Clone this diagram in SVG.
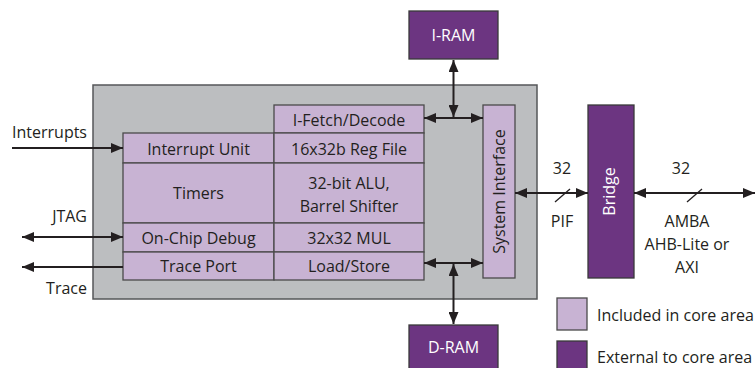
<svg xmlns="http://www.w3.org/2000/svg" width="755" height="368" viewBox="0 0 755 368">
<defs>
<marker id="ah" viewBox="0 0 12 10" refX="12" refY="5" markerWidth="12" markerHeight="10" markerUnits="userSpaceOnUse" orient="auto-start-reverse">
<path d="M0,0 L12,5 L0,10 z" fill="#231f20"/>
</marker>
<style>
text{font-family:"Open Sans","Noto Sans","DejaVu Sans",sans-serif;font-size:16px;fill:#231f20}
.c{text-anchor:middle}
.e{text-anchor:end}
.w{fill:#ffffff}
.core{fill:#bcbec0;stroke:#555759;stroke-width:1.5}
.lt{fill:#c8b3d3;stroke:#4a4a4a;stroke-width:1.3}
.dk{fill:#6c3581;stroke:#3a3a3a;stroke-width:1.3}
.ln{stroke:#231f20;stroke-width:2;fill:none}
.cn{stroke:#231f20;stroke-width:2;fill:none;marker-end:url(#ah)}
.cb{stroke:#231f20;stroke-width:2;fill:none;marker-start:url(#ah);marker-end:url(#ah)}
</style>
</defs>
<rect width="755" height="368" fill="#ffffff"/>
<g id="core"><rect class="core" x="93" y="85" width="444" height="214"/></g>
<g id="ifetch"><rect class="lt" x="274" y="105" width="150" height="28"/><text class="c" x="349" y="126">I-Fetch/Decode</text></g>
<g id="interrupt-unit"><rect class="lt" x="123" y="133" width="151" height="30"/><text class="c" x="198.5" y="155">Interrupt Unit</text></g>
<g id="regfile"><rect class="lt" x="274" y="133" width="150" height="30"/><text class="c" x="349" y="155">16x32b Reg File</text></g>
<g id="timers"><rect class="lt" x="123" y="163" width="151" height="60"/><text class="c" x="198.5" y="199">Timers</text></g>
<g id="alu"><rect class="lt" x="274" y="163" width="150" height="60"/><text class="c" x="349" y="189">32-bit ALU,</text><text class="c" x="349" y="212">Barrel Shifter</text></g>
<g id="ocd"><rect class="lt" x="123" y="223" width="151" height="29"/><text class="c" x="198.5" y="244">On-Chip Debug</text></g>
<g id="mul"><rect class="lt" x="274" y="223" width="150" height="29"/><text class="c" x="349" y="244">32x32 MUL</text></g>
<g id="trace-port"><rect class="lt" x="123" y="252" width="151" height="28"/><text class="c" x="198.5" y="272">Trace Port</text></g>
<g id="loadstore"><rect class="lt" x="274" y="252" width="150" height="28"/><text class="c" x="349" y="272">Load/Store</text></g>
<g id="sysif"><rect class="lt" x="483" y="105" width="32" height="173"/><text class="c" transform="translate(498.5,191.5) rotate(-90)" x="0" y="6">System Interface</text></g>
<g id="iram"><rect class="dk" x="409" y="11" width="89" height="48"/><text class="c w" x="453.5" y="41">I-RAM</text></g>
<g id="dram"><rect class="dk" x="409" y="325" width="89" height="48"/><text class="c w" x="453.5" y="353">D-RAM</text></g>
<g id="bridge"><rect class="dk" x="588" y="105" width="46" height="173"/><text class="c w" transform="translate(609,191.5) rotate(-90)" x="0" y="6">Bridge</text></g>
<g id="connectors">
<line class="cn" x1="12" y1="148" x2="123" y2="148"/>
<line class="cb" x1="22" y1="237" x2="123" y2="237"/>
<line class="cn" x1="123" y1="267" x2="22" y2="267"/>
<line class="cb" x1="424" y1="118" x2="483" y2="118"/>
<line class="cb" x1="453.5" y1="60" x2="453.5" y2="117"/>
<line class="cb" x1="424" y1="263" x2="483" y2="263"/>
<line class="cb" x1="453.5" y1="264" x2="453.5" y2="324"/>
<line class="cb" x1="515" y1="193" x2="588" y2="193"/>
<line class="cb" x1="634" y1="193" x2="755" y2="193"/>
<line class="ln" style="stroke-width:1.3" x1="555" y1="202" x2="570" y2="189"/>
<line class="ln" style="stroke-width:1.3" x1="687" y1="202" x2="702" y2="189"/>
</g>
<g id="labels">
<text class="e" x="87" y="138">Interrupts</text>
<text class="e" x="87" y="222">JTAG</text>
<text class="e" x="87" y="294">Trace</text>
<text class="c" x="562" y="174">32</text>
<text class="c" x="562" y="227">PIF</text>
<text class="c" x="681" y="174">32</text>
<text class="c" x="687" y="227">AMBA</text>
<text class="c" x="687" y="250">AHB-Lite or</text>
<text class="c" x="687" y="273">AXI</text>
</g>
<g id="legend">
<rect class="lt" x="557" y="298" width="30" height="32"/>
<text x="597" y="321">Included in core area</text>
<rect class="dk" x="557" y="341" width="30" height="32"/>
<text x="597" y="363">External to core area</text>
</g>
</svg>
